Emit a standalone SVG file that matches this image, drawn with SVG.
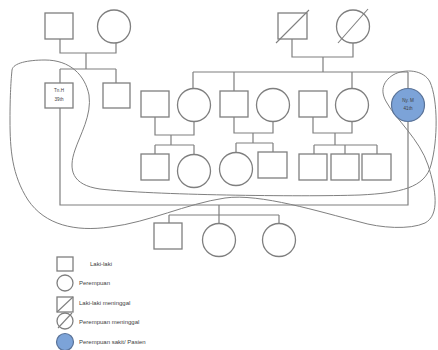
<svg xmlns="http://www.w3.org/2000/svg" width="438" height="350" viewBox="0 0 438 350">
<style>
.m{fill:#fff;stroke:#7f7f7f;stroke-width:1.3}
.p{fill:#7ca3d8;stroke:#5a7398;stroke-width:1.2}
.d{stroke:#7f7f7f;stroke-width:1.1;fill:none}
.c{fill:none;stroke:#7f7f7f;stroke-width:1.2}
.b{fill:none;stroke:#808080;stroke-width:1}
.t{font-family:"Liberation Sans",Arial,sans-serif;fill:#404040}
.s{font-size:4.6px;text-anchor:middle}
.l{font-size:6px}
</style>
<rect width="438" height="350" fill="#fff"/>
<g id="connectors" class="c">
<path d="M60,39V53H116V43M86,53V69M60,69H116M60,69V83M116,69V83"/>
<path d="M292,39V57H353V43M323,57V72M193,72H408M193,72V88.5M234,72V91M352,72V88.5M408,72V88"/>
<path d="M155,117V135H194V121.5M171,135V145M155,145H194M155,145V154M194,145V154.5"/>
<path d="M234,117V133H273V121.5M253,133V143M236,143H273M236,143V152.5M273,143V152"/>
<path d="M313,117V133H352V121.5M335,133V145M314,145H377M314,145V154M345,145V154M377,145V154"/>
<path d="M60,108V205H408V122M219,205V215M169,215H279M169,215V223M219,215V223.5M279,215V223.5"/>
</g>
<g id="boundary">
<path class="b" d="M12,70C13,63 28,60 45,60C70,60 85,75 89,95C92,115 80,135 75,150C68,170 72,185 100,189C150,195 300,197 360,195C400,193 425,188 431,165C438,140 438,100 430,82C424,70 405,68 393,75C382,82 380,92 387,103C395,118 420,140 428,165C436,190 440,215 425,223C410,230 380,228 360,222C320,212 260,193 225,198C185,204 150,222 110,227C75,232 45,225 28,200C12,175 10,150 10,120C10,95 11,80 12,70Z"/>
</g>
<g id="gf-left"><rect class="m" x="45" y="13" width="28" height="26"/></g>
<g id="gm-left"><circle class="m" cx="114" cy="26.5" r="16.5"/></g>
<g id="gf-right"><rect class="m" x="278" y="13" width="29" height="26"/><line class="d" x1="276" y1="43" x2="309" y2="10"/></g>
<g id="gm-right"><circle class="m" cx="353" cy="26.5" r="16.5"/><line class="d" x1="338" y1="43" x2="368" y2="9"/></g>
<g id="tn-h"><rect class="m" x="45" y="83" width="28" height="25"/><text class="t s" x="59" y="92">Tn.H</text><text class="t s" x="59" y="100.5">39th</text></g>
<g id="uncle"><rect class="m" x="103" y="83" width="27" height="25"/></g>
<g id="c1-m"><rect class="m" x="141" y="91" width="28" height="26"/></g>
<g id="c1-f"><circle class="m" cx="194" cy="105" r="16.5"/></g>
<g id="c2-m"><rect class="m" x="220" y="91" width="28" height="26"/></g>
<g id="c2-f"><circle class="m" cx="273" cy="105" r="16.5"/></g>
<g id="c3-m"><rect class="m" x="299" y="91" width="28" height="26"/></g>
<g id="c3-f"><circle class="m" cx="352" cy="105" r="16.5"/></g>
<g id="ny-m"><circle class="p" cx="408" cy="105" r="16.5"/><text class="t s" x="408" y="101.5">Ny. M</text><text class="t s" x="408" y="110">41th</text></g>
<g id="g3-1"><rect class="m" x="141" y="154" width="28" height="26"/></g>
<g id="g3-2"><circle class="m" cx="194" cy="171" r="16.5"/></g>
<g id="g3-3"><circle class="m" cx="236" cy="169" r="16.5"/></g>
<g id="g3-4"><rect class="m" x="258" y="152" width="29" height="26"/></g>
<g id="g3-5"><rect class="m" x="299" y="154" width="28" height="26"/></g>
<g id="g3-6"><rect class="m" x="331" y="154" width="28" height="26"/></g>
<g id="g3-7"><rect class="m" x="362" y="154" width="29" height="26"/></g>
<g id="k1"><rect class="m" x="154" y="223" width="28" height="26"/></g>
<g id="k2"><circle class="m" cx="219" cy="240" r="16.5"/></g>
<g id="k3"><circle class="m" cx="279" cy="240" r="16.5"/></g>
<g id="legend">
<rect class="m" x="57" y="257" width="16" height="14"/>
<text class="t l" x="90" y="266">Laki-laki</text>
<circle class="m" cx="65" cy="283" r="8"/>
<text class="t l" x="79" y="285">Perempuan</text>
<rect class="m" x="57" y="297" width="16" height="15"/>
<line class="d" x1="57" y1="312" x2="73" y2="297"/>
<text class="t l" x="79" y="305">Laki-laki meninggal</text>
<circle class="m" cx="65" cy="321" r="8"/>
<line class="d" x1="58" y1="328" x2="72" y2="313"/>
<text class="t l" x="79" y="324">Perempuan meninggal</text>
<circle class="p" cx="65" cy="342" r="8.5"/>
<text class="t l" x="79" y="343.5">Perempuan sakit/ Pasien</text>
</g>
</svg>
